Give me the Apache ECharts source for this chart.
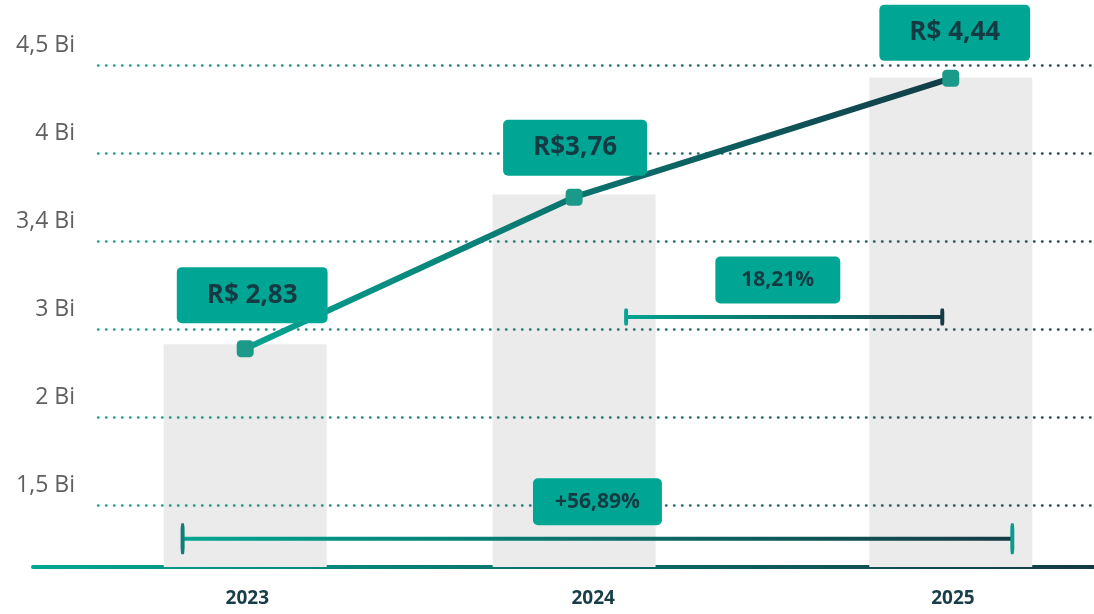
<!DOCTYPE html>
<html>
<head>
<meta charset="utf-8">
<script src="https://cdn.jsdelivr.net/npm/echarts@6/dist/echarts.min.js"></script>
<style>
  html, body { margin: 0; padding: 0; background: #fff; }
  #chart { width: 1094px; height: 614px; }
</style>
</head>
<body>
<div id="chart"></div>
<script>
// anos e posição de cada ano no eixo horizontal (escala 0-10)
const years = ['2023', '2024', '2025'];
const yearX = [2.0, 5.1, 8.65];
const yearLabelX = [2.02, 5.28, 8.67];

// níveis no eixo vertical (1 = linha "1,5 Bi" ... 6 = linha "4,5 Bi")
const tickLabels = ['1,5 Bi', '2 Bi', '3 Bi', '3,4 Bi', '4 Bi', '4,5 Bi'];
const barLevels = [2.83, 4.53, 5.86];
const lineLevels = [2.78, 4.50, 5.85];
const priceLabels = ['R$ 2,83', 'R$3,76', 'R$ 4,44'];

// faixas de crescimento
const growthLabels = ['18,21%', '+56,89%'];
const growthFrom = [5.59, 1.41];
const growthTo = [8.57, 9.23];
const growthLabelX = [7.02, 5.32];
const growthLevel = [3.14, 0.62];

const TEAL = '#00a693';
const DARK = '#143a44';
const FONT = 'Open Sans';

// ajuste fino das caixas de preço (distância / deslocamento)
const priceGap = [17, 13, 9];
const priceShift = [7, 1, 4];

function hGrad(c1, c2) {
  return new echarts.graphic.LinearGradient(0, 0, 1, 0, [
    { offset: 0, color: c1 },
    { offset: 1, color: c2 }
  ]);
}

const myChart = echarts.init(document.getElementById('chart'));

// caixinhas verdes com texto escuro
function boxLabel(size, pad) {
  return {
    show: true,
    position: 'top',
    color: DARK,
    fontFamily: FONT,
    fontWeight: 'bold',
    fontSize: size,
    lineHeight: size,
    backgroundColor: TEAL,
    borderRadius: 5,
    padding: pad
  };
}

const growthSeries = growthLabels.map((txt, i) => ({
  type: 'line',
  xAxisIndex: 0,
  yAxisIndex: 0,
  z: 5,
  silent: true,
  symbol: 'roundRect',
  symbolSize: i === 0 ? [4, 17] : [4, 31],
  lineStyle: { width: 4, color: hGrad(TEAL, DARK) },
  data: [
    { value: [growthFrom[i], growthLevel[i]], itemStyle: { color: i === 0 ? '#0aa393' : '#117d75' } },
    {
      value: [growthLabelX[i], growthLevel[i]],
      symbolSize: 1,
      itemStyle: { color: 'rgba(0,0,0,0)' },
      label: Object.assign(boxLabel(21, i === 0 ? [13, 26] : [13, 22]), {
        distance: 13,
        formatter: () => txt
      })
    },
    { value: [growthTo[i], growthLevel[i]], itemStyle: { color: i === 0 ? DARK : '#0b9a8b' } }
  ]
}));

const option = {
  animation: false,
  grid: [
    { left: 33, right: 0, top: 0, bottom: 47, outerBoundsMode: 'none' },
    { left: 98, right: 0, top: 0, bottom: 47, outerBoundsMode: 'none' }
  ],
  xAxis: [
    {
      type: 'value',
      gridIndex: 0,
      min: 0,
      max: 10,
      splitLine: { show: false },
      axisTick: { show: false },
      axisLine: { show: true, lineStyle: { width: 4, color: hGrad(TEAL, DARK) } },
      axisLabel: {
        customValues: yearLabelX,
        formatter: v => {
          const k = yearLabelX.indexOf(v);
          return k >= 0 ? years[k] : '';
        },
        margin: 22,
        color: '#173e49',
        fontFamily: FONT,
        fontWeight: 'bold',
        fontSize: 19
      }
    },
    { type: 'value', gridIndex: 1, min: 0, max: 10, show: false }
  ],
  yAxis: [
    { type: 'value', gridIndex: 0, min: 0.3, max: 6.74, show: false },
    {
      type: 'value',
      gridIndex: 1,
      min: 0.3,
      max: 6.74,
      z: 3,
      axisLine: { show: false },
      axisTick: { show: false },
      axisLabel: {
        showMinLabel: false,
        showMaxLabel: false,
        formatter: v => (Number.isInteger(v) ? tickLabels[v - 1] || '' : ''),
        margin: 23,
        verticalAlign: 'bottom',
        padding: [0, 0, 8, 0],
        color: '#5f5f5f',
        fontFamily: FONT,
        fontSize: 23
      },
      splitLine: {
        show: true,
        showMinLine: false,
        showMaxLine: false,
        lineStyle: {
          width: 2.5,
          type: [0.5, 7.5],
          cap: 'round',
          color: hGrad('#1fa898', '#2e4a54')
        }
      }
    }
  ],
  series: [
    {
      type: 'bar',
      xAxisIndex: 0,
      yAxisIndex: 0,
      z: 1,
      silent: true,
      barWidth: 163,
      itemStyle: { color: '#ebebeb' },
      data: yearX.map((x, i) => [x, barLevels[i]])
    },
    {
      type: 'line',
      xAxisIndex: 0,
      yAxisIndex: 0,
      z: 6,
      silent: true,
      symbol: 'roundRect',
      symbolSize: 17,
      itemStyle: { color: '#1c9a89' },
      lineStyle: { width: 6, color: hGrad('#05a391', '#123c46') },
      label: Object.assign(boxLabel(26, [15, 30]), {
        formatter: p => priceLabels[p.dataIndex]
      }),
      data: yearX.map((x, i) => ({
        value: [x, lineLevels[i]],
        label: { distance: priceGap[i], offset: [priceShift[i], 0] }
      }))
    }
  ].concat(growthSeries)
};

myChart.setOption(option);
</script>
</body>
</html>
